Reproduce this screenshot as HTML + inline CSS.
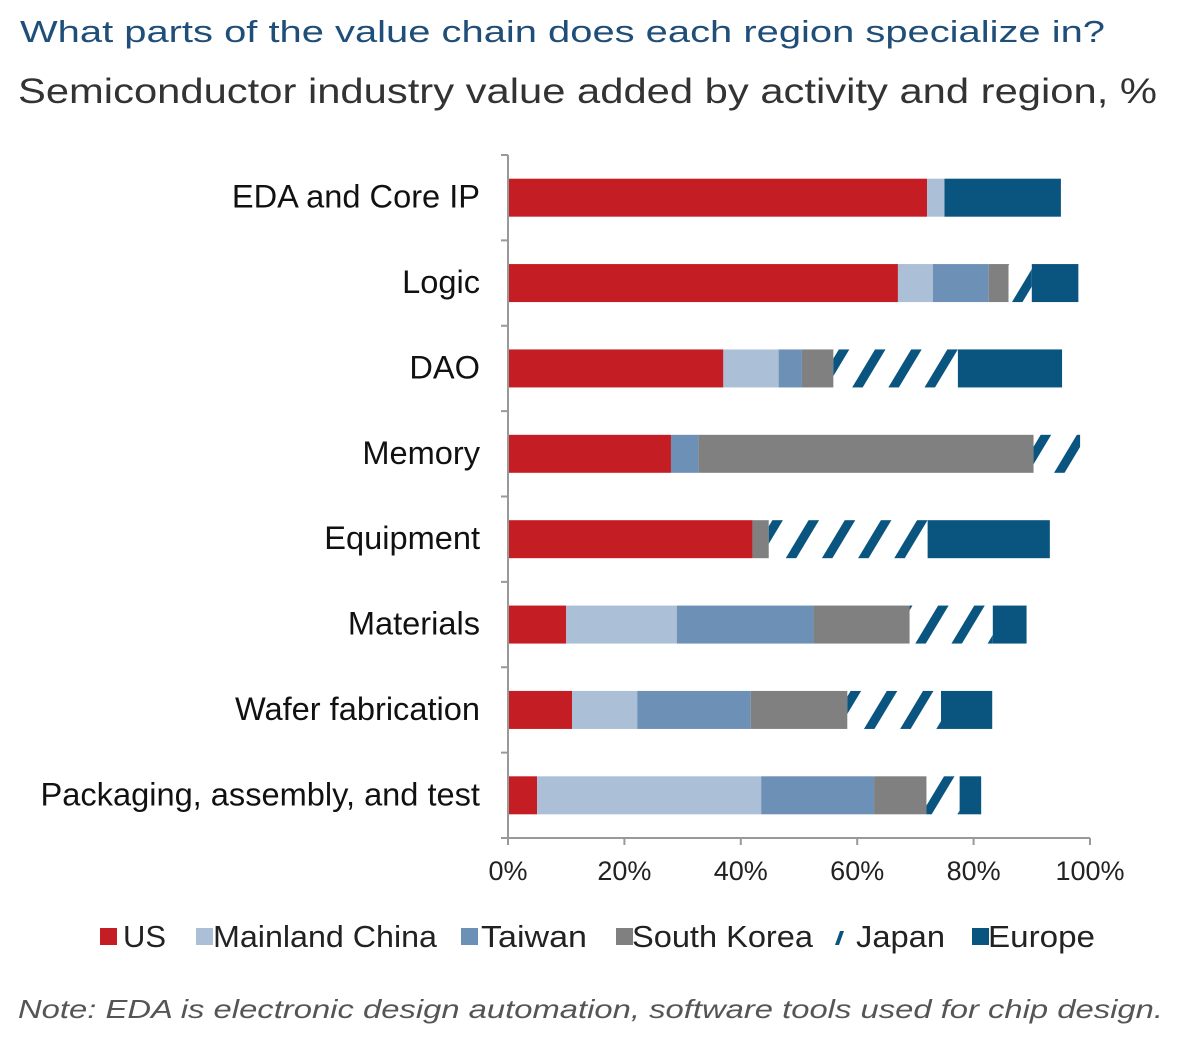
<!DOCTYPE html>
<html><head><meta charset="utf-8"><style>
body{margin:0;background:#fff;}
svg{display:block;font-family:"Liberation Sans",sans-serif;}
</style></head><body>
<svg width="1200" height="1050" viewBox="0 0 1200 1050">
<defs>
<pattern id="hatch" patternUnits="userSpaceOnUse" width="31" height="10" patternTransform="rotate(31)">
<rect x="0" y="0" width="9" height="10" fill="#0a5480"/>
</pattern>
</defs>
<text x="20" y="42" font-size="31" fill="#1f4e79" textLength="1085" lengthAdjust="spacingAndGlyphs">What parts of the value chain does each region specialize in?</text>
<text x="18" y="103" font-size="35" fill="#333" textLength="1139" lengthAdjust="spacingAndGlyphs">Semiconductor industry value added by activity and region, %</text>
<g id="plot"></g>
<g id="legend"></g>
<text x="18" y="1018" font-size="26" font-style="italic" fill="#555" textLength="1145" lengthAdjust="spacingAndGlyphs">Note: EDA is electronic design automation, software tools used for chip design.</text>
</svg>
<script>
const categories=["EDA and Core IP","Logic","DAO","Memory","Equipment","Materials","Wafer fabrication","Packaging, assembly, and test"];
const seriesNames=["US","Mainland China","Taiwan","South Korea","Japan","Europe"];
const us=[72,67,37,28,42,10,11,5];
const china=[3,6,9.5,0,0,19,11.2,38.5];
const taiwan=[0,9.6,4,4.7,0,23.5,19.5,19.4];
const korea=[0,3.4,5.4,57.6,2.8,16.5,16.6,9];
const japan=[0,4,21.4,8,27.3,14.3,16.1,5.7];
const europe=[20,8,17.9,0,21,5.8,8.8,3.7];
const ticks=[0,20,40,60,80,100];
const tickLabels=["0%","20%","40%","60%","80%","100%"];

const NS="http://www.w3.org/2000/svg";
const series=[us,china,taiwan,korea,japan,europe];
const fills=["#c41e24","#abbfd6","#6d90b7","#808080","url(#hatch)","#0a5480"];
const X0=508,X1=1090,TOP=155,BOT=838;
const x=v=>X0+(v/100)*(X1-X0);
const band=(BOT-TOP)/categories.length;
const yc=i=>TOP+band*(i+0.5);
const BH=38;
function mk(tag,attrs,parent){const e=document.createElementNS(NS,tag);for(const k in attrs)e.setAttribute(k,attrs[k]);parent.appendChild(e);return e;}
const plot=document.getElementById('plot');
categories.forEach((c,i)=>{
  let acc=0;
  series.forEach((s,j)=>{
    const v=s[i];
    if(v>0){
      const r=mk('rect',{x:x(acc),y:yc(i)-BH/2,width:x(acc+v)-x(acc),height:BH,fill:fills[j]},plot);
      
      
    }
    acc+=v;
  });
  const t=mk('text',{x:480,y:yc(i)+10,'font-size':32.6,'text-anchor':'end',fill:'#111'},plot);
  t.textContent=c;
  
  
});
const ya=mk('line',{x1:X0,y1:TOP,x2:X0,y2:BOT,stroke:'#999','stroke-width':2},plot);


for(let i=0;i<=categories.length;i++){
  const tk=mk('line',{x1:X0-7,y1:TOP+band*i,x2:X0,y2:TOP+band*i,stroke:'#999','stroke-width':2},plot);
  
  
}
const xa=mk('line',{x1:X0,y1:BOT,x2:X1,y2:BOT,stroke:'#999','stroke-width':2},plot);


ticks.forEach((v,k)=>{
  const tk=mk('line',{x1:x(v),y1:BOT,x2:x(v),y2:BOT+7,stroke:'#999','stroke-width':2},plot);
  
  
  const t=mk('text',{x:x(v),y:880,'font-size':27,'text-anchor':'middle',fill:'#222'},plot);
  t.textContent=tickLabels[k];
  
  
});
const lg=document.getElementById('legend');
const lx=[100,196,461,616,832,972];
const tx=[123,213,481,632,856,988];
const tw=[43,224,106,181,89,107];
seriesNames.forEach((n,j)=>{
  const g=mk('g',{},lg);
  
  
  if(j===4){mk('polygon',{points:(lx[j]+3)+',945 '+(lx[j]+7)+',945 '+(lx[j]+12)+',931 '+(lx[j]+8)+',931',fill:'#0a5480'},g);}
  else mk('rect',{x:lx[j],y:928,width:17,height:17,fill:fills[j]},g);
  const t=mk('text',{x:tx[j],y:947,'font-size':31,fill:'#222',textLength:tw[j],lengthAdjust:'spacingAndGlyphs'},g);
  t.textContent=n;
});
</script>
</body></html>
